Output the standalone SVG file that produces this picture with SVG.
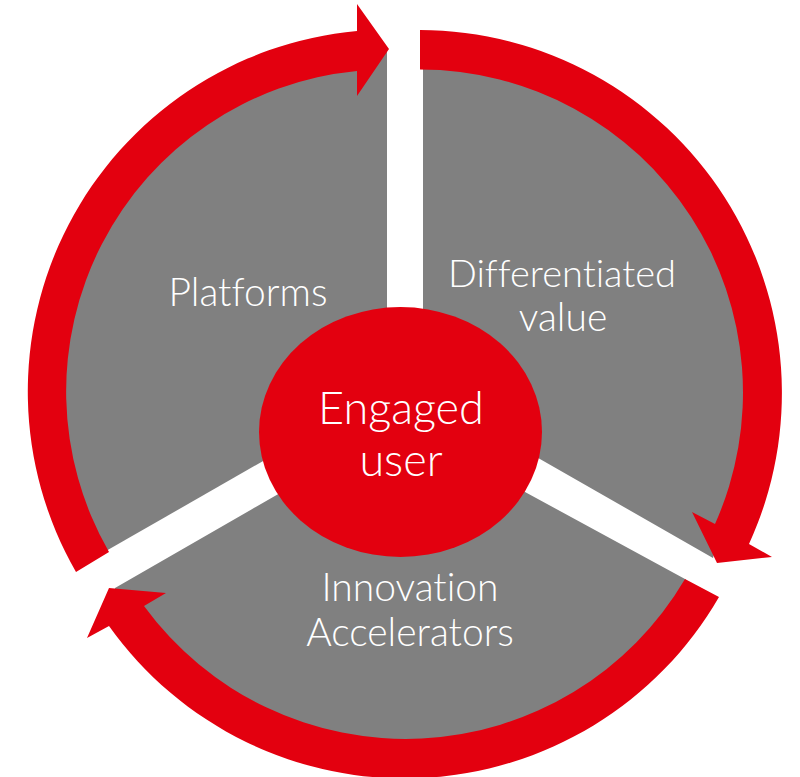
<svg xmlns="http://www.w3.org/2000/svg" width="800" height="777" viewBox="0 0 800 777">
<style>
.r{fill:#e3000f}
.s{fill:#808080}
text{font-family:"Lato","Open Sans",sans-serif;font-weight:300;font-variant-ligatures:none;fill:#fff;text-anchor:middle}
.m{font-size:39px}.d{font-size:38px}.b{font-size:45px}
</style>
<rect width="800" height="777" fill="#fff"/>
<path class="s" d="M423 60A333 333 0 0 1 720 530L713 558L423 392Z"/>
<path class="s" d="M387 50L350 50A343 343 0 0 0 90 560L109 549.300L387 390Z"/>
<path class="s" d="M115 590L115 588L400 424L685 579L695 590A340 340 0 0 1 150 640L130 600Z"/>
<g id="connectors">
<path class="r" d="M420 30A363 363 0 0 1 749 544L772 557L717 563L692 512L715 524A323 323 0 0 0 420 69.500Z"/>
<path class="r" d="M685 579L719 597A363 363 0 0 1 109 626L87 638L109 588L166 593L144 606A324 324 0 0 0 685 579Z"/>
<path class="r" d="M76 572A362 362 0 0 1 357 31L357 4L389 49L357 96L357 71A322 322 0 0 0 109 552Z"/>
</g>
<g id="platforms"><text class="m" x="248" y="306">Platforms</text></g>
<g id="differentiated"><text class="d" x="562" y="287">Differentiated</text><text class="m" x="563" y="331">value</text></g>
<g id="innovation"><text class="m" x="410" y="601">Innovation</text><text class="m" x="410" y="646">Accelerators</text></g>
<g id="center"><ellipse class="r" cx="400.500" cy="432" rx="141.500" ry="125"/><text class="b" x="401" y="424">Engaged</text><text class="b" x="401" y="476">user</text></g>
</svg>
